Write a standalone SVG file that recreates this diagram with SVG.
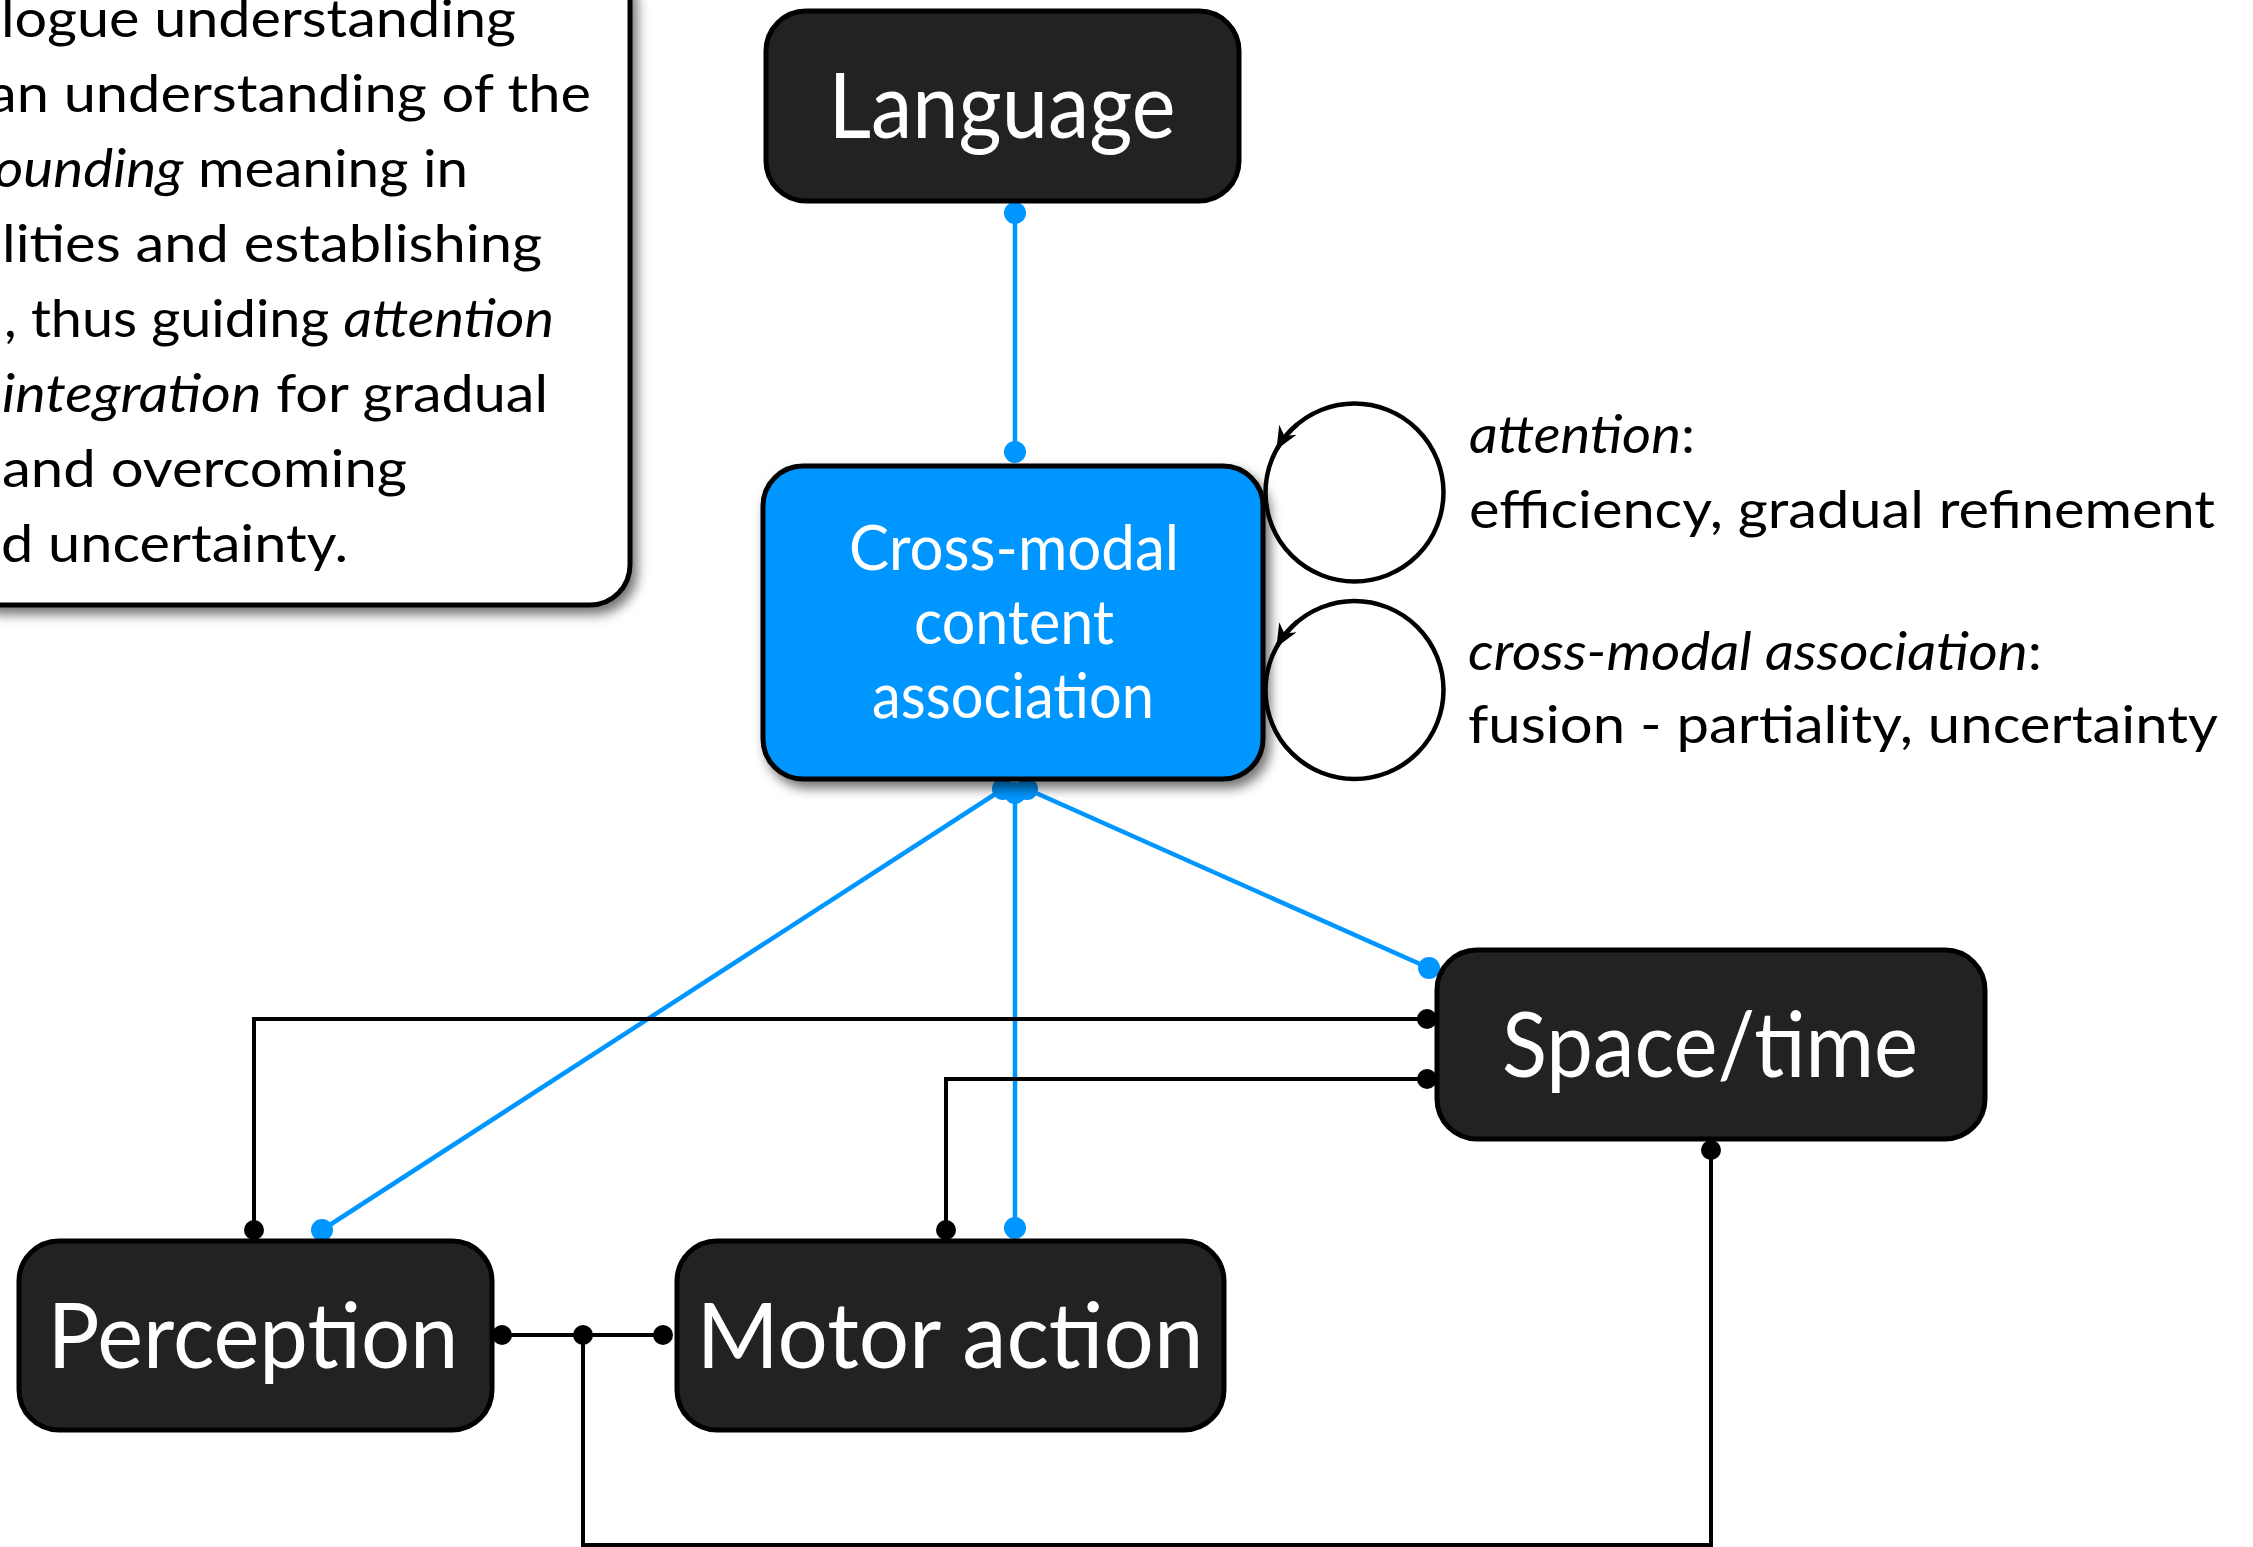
<svg xmlns="http://www.w3.org/2000/svg" width="2253" height="1547" viewBox="0 0 2253 1547">
<style>
.box{fill:#222222;stroke:#000;stroke-width:5}
.blue{fill:#0096FF;stroke:#000;stroke-width:5}
.note{fill:#fff;stroke:#000;stroke-width:5}
.lbl{font-family:Lato,"Liberation Sans",sans-serif;fill:#fff;font-size:92px}
.mid{font-family:Lato,"Liberation Sans",sans-serif;fill:#fff;font-size:61px}
.txt{font-family:Lato,"Liberation Sans",sans-serif;fill:#000;font-size:52px}
.bl{stroke:#0096FF;stroke-width:4.5;fill:none}
.kl{stroke:#000;stroke-width:4;fill:none}
.bd{fill:#0096FF}
.kd{fill:#000}
.loop{stroke:#000;stroke-width:4.5;fill:none}
.tip{stroke:#000;stroke-width:4.5;fill:none;marker-end:url(#arr)}
</style>
<defs>
<filter id="sh" x="-10%" y="-10%" width="130%" height="130%">
<feDropShadow dx="5" dy="7" stdDeviation="6" flood-color="#000" flood-opacity="0.55"/>
</filter>
<marker id="arr" markerUnits="userSpaceOnUse" markerWidth="28" markerHeight="24" viewBox="-24 -12 28 24" refX="0" refY="0" orient="auto">
<path d="M2,0 L-21,-10 L-14,0 L-21,10 Z" fill="#000"/>
</marker>
</defs>

<g id="note">
<rect class="note" x="-40" y="-40" width="670" height="645" rx="40" filter="url(#sh)"/>
<text class="txt" x="516" y="37" text-anchor="end" textLength="515" lengthAdjust="spacingAndGlyphs">logue understanding</text>
<text class="txt" x="591" y="112" text-anchor="end" textLength="603" lengthAdjust="spacingAndGlyphs">an understanding of the</text>
<text class="txt" x="468" y="187" text-anchor="end" textLength="474" lengthAdjust="spacingAndGlyphs"><tspan font-style="italic">ounding</tspan> meaning in</text>
<text class="txt" x="542" y="262" text-anchor="end" textLength="540" lengthAdjust="spacingAndGlyphs">lities and establishing</text>
<text class="txt" x="554" y="337" text-anchor="end" textLength="550" lengthAdjust="spacingAndGlyphs">, thus guiding <tspan font-style="italic">attention</tspan></text>
<text class="txt" x="548" y="412" text-anchor="end" textLength="546" lengthAdjust="spacingAndGlyphs"><tspan font-style="italic">integration</tspan> for gradual</text>
<text class="txt" x="407" y="487" text-anchor="end" textLength="405" lengthAdjust="spacingAndGlyphs">and overcoming</text>
<text class="txt" x="348" y="562" text-anchor="end" textLength="347" lengthAdjust="spacingAndGlyphs">d uncertainty.</text>
</g>

<g id="connectors">
<line class="bl" x1="1015" y1="213" x2="1015" y2="452"/>
<circle class="bd" cx="1015" cy="213" r="11"/>
<circle class="bd" cx="1015" cy="452" r="11"/>
<line class="bl" x1="1003" y1="789" x2="322" y2="1230"/>
<line class="bl" x1="1015" y1="792" x2="1015" y2="1228"/>
<line class="bl" x1="1027" y1="789" x2="1429" y2="968"/>
<circle class="bd" cx="1003" cy="789" r="11"/>
<circle class="bd" cx="1015" cy="793" r="11"/>
<circle class="bd" cx="1027" cy="789" r="11"/>
<circle class="bd" cx="322" cy="1230" r="11"/>
<circle class="bd" cx="1015" cy="1228" r="11"/>
<circle class="bd" cx="1429" cy="968" r="11"/>
<path class="kl" d="M254 1230 V1019 H1427"/>
<path class="kl" d="M946 1230 V1079 H1427"/>
<path class="kl" d="M502 1335 H663"/>
<path class="kl" d="M583 1335 V1545 H1711 V1150"/>
<circle class="kd" cx="254" cy="1230" r="10"/>
<circle class="kd" cx="1427" cy="1019" r="10"/>
<circle class="kd" cx="946" cy="1230" r="10"/>
<circle class="kd" cx="1427" cy="1079" r="10"/>
<circle class="kd" cx="502" cy="1335" r="10"/>
<circle class="kd" cx="583" cy="1335" r="10"/>
<circle class="kd" cx="663" cy="1335" r="10"/>
<circle class="kd" cx="1711" cy="1150" r="10"/>
<circle class="loop" cx="1354.5" cy="492.5" r="89"/>
<path class="tip" d="M1297.3 424.3 A89 89 0 0 0 1277.4 448"/>
<circle class="loop" cx="1354.5" cy="690" r="89"/>
<path class="tip" d="M1297.3 621.8 A89 89 0 0 0 1277.4 645.5"/>
</g>

<g id="language">
<rect class="box" x="766" y="11" width="473" height="190" rx="40"/>
<text class="lbl" x="1002" y="138" text-anchor="middle" textLength="347" lengthAdjust="spacingAndGlyphs">Language</text>
</g>

<g id="crossmodal">
<rect class="blue" x="763" y="466" width="500" height="313" rx="40" filter="url(#sh)"/>
<text class="mid" x="1014" y="570" text-anchor="middle" textLength="330" lengthAdjust="spacingAndGlyphs">Cross-modal</text>
<text class="mid" x="1014" y="644" text-anchor="middle" textLength="200" lengthAdjust="spacingAndGlyphs">content</text>
<text class="mid" x="1013" y="718" text-anchor="middle" textLength="282" lengthAdjust="spacingAndGlyphs">association</text>
</g>

<g id="perception">
<rect class="box" x="19" y="1241" width="473" height="189" rx="40"/>
<text class="lbl" x="253" y="1368" text-anchor="middle" textLength="411" lengthAdjust="spacingAndGlyphs">Perception</text>
</g>

<g id="motor">
<rect class="box" x="677" y="1241" width="547" height="189" rx="40"/>
<text class="lbl" x="950" y="1368" text-anchor="middle" textLength="507" lengthAdjust="spacingAndGlyphs">Motor action</text>
</g>

<g id="spacetime">
<rect class="box" x="1437" y="950" width="548" height="189" rx="40"/>
<text class="lbl" x="1710" y="1077" text-anchor="middle" textLength="416" lengthAdjust="spacingAndGlyphs">Space/time</text>
</g>

<g id="loop-labels">
<text class="txt" x="1469" y="453" textLength="226" lengthAdjust="spacingAndGlyphs"><tspan font-style="italic">attention</tspan>:</text>
<text class="txt" x="1469" y="528" textLength="746" lengthAdjust="spacingAndGlyphs">efficiency, gradual refinement</text>
<text class="txt" x="1468" y="670" textLength="574" lengthAdjust="spacingAndGlyphs"><tspan font-style="italic">cross-modal association</tspan>:</text>
<text class="txt" x="1468" y="743" textLength="750" lengthAdjust="spacingAndGlyphs">fusion - partiality, uncertainty</text>
</g>
</svg>
